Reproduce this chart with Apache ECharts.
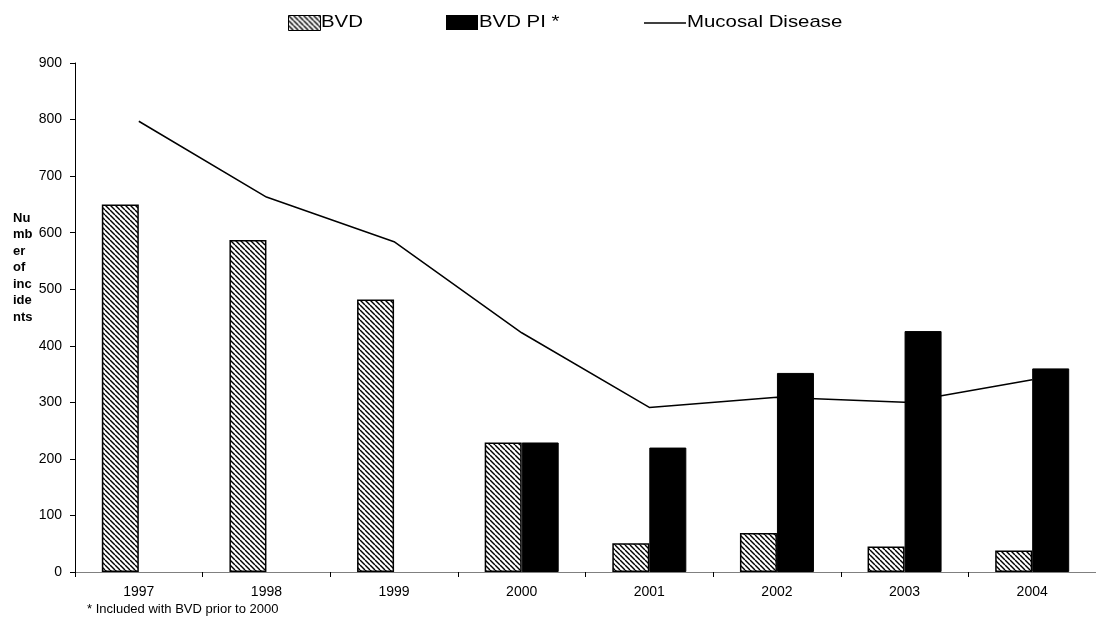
<!DOCTYPE html>
<html>
<head>
<meta charset="utf-8">
<script src="https://cdn.jsdelivr.net/npm/echarts@6/dist/echarts.min.js"></script>
<style>
  html, body { margin: 0; padding: 0; background: #fff; }
  #chart { width: 1096px; height: 619px; }
</style>
</head>
<body>
<div id="chart"></div>
<script>
// Incidents per year
const years = ['1997', '1998', '1999', '2000', '2001', '2002', '2003', '2004'];
const bvd = [650, 587, 482, 229, 51, 69, 45, 38];
const bvdPI = [null, null, null, 229, 220, 352, 426, 360];
const mucosal = [797, 663, 584, 423, 291, 309, 300, 340];
const yTicks = [0, 100, 200, 300, 400, 500, 600, 700, 800, 900];

const FONT = '"Liberation Sans", Arial, sans-serif';

// Diagonal hatch fill for the BVD bars
function hatch() {
  const c = document.createElement('canvas');
  c.width = 5; c.height = 5;
  const g = c.getContext('2d');
  g.fillStyle = '#fff';
  g.fillRect(0, 0, 5, 5);
  g.strokeStyle = '#000';
  g.lineWidth = 1.4;
  for (let k = -5; k <= 5; k += 5) {
    g.beginPath();
    g.moveTo(k, 0);
    g.lineTo(k + 5, 5);
    g.stroke();
  }
  return c;
}
const hatchFill = { image: hatch(), repeat: 'repeat' };

// legend text, slightly widened
function legendText(x, text) {
  return { type: 'text', x: x, y: 14, scaleX: 1.2,
    style: { text: text, font: '17px ' + FONT, fill: '#000' } };
}

const chart = echarts.init(document.getElementById('chart'));
chart.setOption({
  animation: false,
  grid: { left: 75, top: 63, width: 1027, bottom: 47, containLabel: false },
  xAxis: {
    type: 'category',
    data: years,
    axisLine: { lineStyle: { color: '#808080', width: 1 } },
    axisTick: { show: true, length: 5, lineStyle: { color: '#000' } },
    axisLabel: { color: '#000', fontFamily: FONT, fontSize: 14, margin: 13 }
  },
  yAxis: {
    type: 'value',
    min: 0, max: 900, interval: 100,
    axisLine: { show: true, lineStyle: { color: '#000', width: 1 } },
    axisTick: { show: true, length: 5, lineStyle: { color: '#000' } },
    splitLine: { show: false },
    axisLabel: {
      color: '#000', fontFamily: FONT, fontSize: 14, margin: 13,
      formatter: v => yTicks.includes(v) ? String(v) : ''
    }
  },
  series: [
    {
      name: 'BVD', type: 'bar', data: bvd, barWidth: 37, barGap: '0%',
      itemStyle: { color: hatchFill, borderColor: '#000', borderWidth: 1.5 }
    },
    {
      name: 'BVD PI *', type: 'bar', data: bvdPI, barWidth: 37, barGap: '0%',
      itemStyle: { color: '#000', borderColor: '#000', borderWidth: 1 }
    },
    {
      name: 'Mucosal Disease', type: 'line', data: mucosal,
      symbol: 'none', z: 5,
      lineStyle: { color: '#000', width: 1.5 }
    }
  ],
  graphic: [
    // legend
    { type: 'rect', left: 288, top: 15, shape: { width: 32, height: 15 },
      style: { fill: hatchFill, stroke: '#000', lineWidth: 1 } },
    legendText(321, 'BVD'),
    { type: 'rect', left: 446, top: 15, shape: { width: 32, height: 15 },
      style: { fill: '#000' } },
    legendText(479, 'BVD PI *'),
    { type: 'line', shape: { x1: 644, y1: 23, x2: 686, y2: 23 },
      style: { stroke: '#000', lineWidth: 1.5 } },
    legendText(687, 'Mucosal Disease'),
    // y-axis title
    { type: 'text', left: 13, top: 210,
      style: { text: 'Nu\nmb\ner\nof\ninc\nide\nnts', font: 'bold 13px ' + FONT,
               fill: '#000', lineHeight: 16.5 } },
    // footnote
    { type: 'text', left: 87, top: 603,
      style: { text: '* Included with BVD prior to 2000', font: '13px ' + FONT, fill: '#000' } }
  ]
});
</script>
</body>
</html>
